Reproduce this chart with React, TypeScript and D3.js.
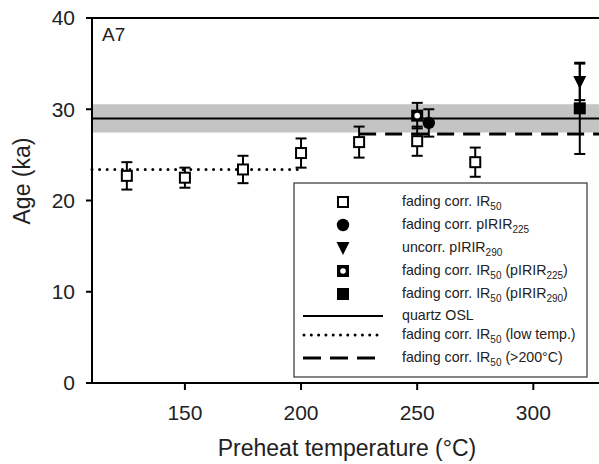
import React from "react";
import * as d3 from "d3";

// ---- data ----
const ir50Temps = [125, 150, 175, 200, 225, 250, 275];
const ir50Ages = [22.7, 22.5, 23.4, 25.2, 26.4, 26.5, 24.2];
const ir50Errs = [1.5, 1.1, 1.5, 1.6, 1.7, 1.6, 1.6];

const pirir225Temps = [255];
const pirir225Ages = [28.5];
const pirir225Errs = [1.5];

const pirir290Temps = [320];
const pirir290Ages = [33.0];
const pirir290Errs = [2.0];

const ir50p225Temps = [250];
const ir50p225Ages = [29.3];
const ir50p225Errs = [1.4];

const ir50p290Temps = [320];
const ir50p290Ages = [30.1];
const ir50p290Errs = [5.0];

const quartzOSL = 29.0;
const quartzOSLErr = 1.55;
const lowTempAge = 23.4;
const lowTempRange = [110, 200];
const highTempAge = 27.3;
const highTempRange = [225, 330];

const xTicks = [150, 200, 250, 300];
const yTicks = [0, 10, 20, 30, 40];
const xDomain = [110, 330];
const yDomain = [0, 40];

const FONT = "'Liberation Sans', Arial, Helvetica, sans-serif";

type Part = [string, boolean];
const legendItems: { sym: string; parts: Part[] }[] = [
  { sym: "openSquare", parts: [["fading corr. IR", false], ["50", true]] },
  { sym: "circle", parts: [["fading corr. pIRIR", false], ["225", true]] },
  { sym: "triangle", parts: [["uncorr. pIRIR", false], ["290", true]] },
  { sym: "dotSquare", parts: [["fading corr. IR", false], ["50", true], [" (pIRIR", false], ["225", true], [")", false]] },
  { sym: "filledSquare", parts: [["fading corr. IR", false], ["50", true], [" (pIRIR", false], ["290", true], [")", false]] },
  { sym: "solid", parts: [["quartz OSL", false]] },
  { sym: "dotted", parts: [["fading corr. IR", false], ["50", true], [" (low temp.)", false]] },
  { sym: "dashed", parts: [["fading corr. IR", false], ["50", true], [" (>200°C)", false]] },
];
const legendRowY = [202, 225, 248, 271, 294, 316, 335, 358];

function Marker({ sym, x, y }: { sym: string; x: number; y: number }) {
  const s = 10;
  switch (sym) {
    case "openSquare":
      return <rect x={x - s / 2} y={y - s / 2} width={s} height={s} fill="#fff" stroke="#000" strokeWidth={2} />;
    case "filledSquare":
      return <rect x={x - s / 2 - 1} y={y - s / 2 - 1} width={s + 2} height={s + 2} fill="#000" />;
    case "dotSquare":
      return (
        <g>
          <rect x={x - s / 2 - 1} y={y - s / 2 - 1} width={s + 2} height={s + 2} fill="#000" />
          <circle cx={x} cy={y} r={2.8} fill="#fff" />
        </g>
      );
    case "circle":
      return <circle cx={x} cy={y} r={6.2} fill="#000" />;
    case "triangle":
      return <path d={`M${x - 6.5},${y - 6} L${x + 6.5},${y - 6} L${x},${y + 7} Z`} fill="#000" />;
    default:
      return null;
  }
}

function LegendText({ x, y, parts }: { x: number; y: number; parts: Part[] }) {
  let prevSub = false;
  return (
    <text x={x} y={y} fontFamily={FONT} fontSize={14.2} fill="#222">
      {parts.map(([t, sub], i) => {
        let dy = 0;
        if (sub && !prevSub) dy = 4;
        if (!sub && prevSub) dy = -4;
        prevSub = sub;
        return (
          <tspan key={i} dy={dy} fontSize={sub ? 10 : 14.2}>
            {t}
          </tspan>
        );
      })}
    </text>
  );
}

export default function App() {
  const W = 599, H = 464;
  const x = d3.scaleLinear().domain(xDomain).range([92, 603]);
  const y = d3.scaleLinear().domain(yDomain).range([383, 18]);
  const left = x(xDomain[0]);
  const right = W + 5;
  const bottom = y(0);
  const top = y(40);

  const line = d3.line<[number, number]>().x((d) => x(d[0])).y((d) => y(d[1]));

  const errBar = (xs: number[], ys: number[], es: number[], key: string) =>
    xs.map((t, i) => {
      const cx = x(t);
      const y1 = y(ys[i] + es[i]);
      const y2 = y(ys[i] - es[i]);
      return (
        <g key={key + i} stroke="#000" strokeWidth={2}>
          <line x1={cx} x2={cx} y1={y1} y2={y2} />
          <line x1={cx - 5.5} x2={cx + 5.5} y1={y1} y2={y1} />
          <line x1={cx - 5.5} x2={cx + 5.5} y1={y2} y2={y2} />
        </g>
      );
    });

  const markers = (xs: number[], ys: number[], sym: string, key: string) =>
    xs.map((t, i) => <Marker key={key + i} sym={sym} x={x(t)} y={y(ys[i])} />);

  const lx0 = 303, lx1 = 383, lsym = 343, ltext = 402;

  return (
    <div style={{ position: "absolute", left: 0, top: 0 }}>
      <svg width={W} height={H} style={{ display: "block", background: "#fff" }}>
        {/* band */}
        <rect x={left} width={right - left} y={y(quartzOSL + quartzOSLErr)} height={y(quartzOSL - quartzOSLErr) - y(quartzOSL + quartzOSLErr)} fill="#c4c4c4" />
        <path d={line([[xDomain[0], quartzOSL], [xDomain[1], quartzOSL]])!} stroke="#000" strokeWidth={2} fill="none" />
        <path d={line([[lowTempRange[0], lowTempAge], [lowTempRange[1], lowTempAge]])!} stroke="#000" strokeWidth={3} strokeDasharray="0 7.6" strokeLinecap="round" fill="none" />
        <path d={line([[highTempRange[0], highTempAge], [highTempRange[1], highTempAge]])!} stroke="#000" strokeWidth={3} strokeDasharray="17 9" fill="none" />

        {/* legend box */}
        <rect x={294} y={183} width={293} height={194} fill="#fff" stroke="#333" strokeWidth={1.2} />

        {/* error bars */}
        {errBar(ir50Temps, ir50Ages, ir50Errs, "e1")}
        {errBar(ir50p225Temps, ir50p225Ages, ir50p225Errs, "e4")}
        {errBar(pirir225Temps, pirir225Ages, pirir225Errs, "e2")}
        {errBar(ir50p290Temps, ir50p290Ages, ir50p290Errs, "e5")}
        {errBar(pirir290Temps, pirir290Ages, pirir290Errs, "e3")}

        {/* markers */}
        {markers(ir50Temps, ir50Ages, "openSquare", "m1")}
        {markers(ir50p225Temps, ir50p225Ages, "dotSquare", "m4")}
        {markers(pirir225Temps, pirir225Ages, "circle", "m2")}
        {markers(ir50p290Temps, ir50p290Ages, "filledSquare", "m5")}
        {markers(pirir290Temps, pirir290Ages, "triangle", "m3")}

        {/* legend contents */}
        {legendItems.map((it, i) => {
          const yy = legendRowY[i];
          let sym: React.ReactNode;
          if (it.sym === "solid") sym = <line x1={lx0} x2={lx1} y1={yy} y2={yy} stroke="#000" strokeWidth={2} />;
          else if (it.sym === "dotted") sym = <line x1={lx0 + 1} x2={lx1} y1={yy} y2={yy} stroke="#000" strokeWidth={3} strokeDasharray="0 7.3" strokeLinecap="round" />;
          else if (it.sym === "dashed") sym = <line x1={lx0} x2={lx1} y1={yy} y2={yy} stroke="#000" strokeWidth={3} strokeDasharray="18 9" />;
          else sym = <Marker sym={it.sym} x={lsym} y={yy} />;
          return (
            <g key={"l" + i}>
              {sym}
              <LegendText x={ltext} y={yy + 4} parts={it.parts} />
            </g>
          );
        })}

        {/* axes frame */}
        <line x1={left} x2={left} y1={top} y2={bottom} stroke="#000" strokeWidth={2} />
        <line x1={left - 6} x2={right} y1={bottom} y2={bottom} stroke="#000" strokeWidth={2} />
        <line x1={left - 6} x2={right} y1={top} y2={top} stroke="#000" strokeWidth={2} />

        {yTicks.map((t) => (
          <g key={"yt" + t}>
            <line x1={left - 6} x2={left} y1={y(t)} y2={y(t)} stroke="#000" strokeWidth={2} />
            <text x={75} y={y(t)} dy="0.35em" textAnchor="end" fontFamily={FONT} fontSize={21} fill="#222">{t}</text>
          </g>
        ))}
        {xTicks.map((t) => (
          <g key={"xt" + t}>
            <line x1={x(t)} x2={x(t)} y1={bottom} y2={bottom + 7} stroke="#000" strokeWidth={2} />
            <text x={x(t)} y={420} textAnchor="middle" fontFamily={FONT} fontSize={21} fill="#222">{t}</text>
          </g>
        ))}

        <text x={347} y={456} textAnchor="middle" fontFamily={FONT} fontSize={23} fill="#222">Preheat temperature (°C)</text>
        <text transform="translate(30,181) rotate(-90)" textAnchor="middle" fontFamily={FONT} fontSize={23} fill="#222">Age (ka)</text>
        <text x={102} y={41} fontFamily={FONT} fontSize={19} fill="#222">A7</text>
      </svg>
    </div>
  );
}
